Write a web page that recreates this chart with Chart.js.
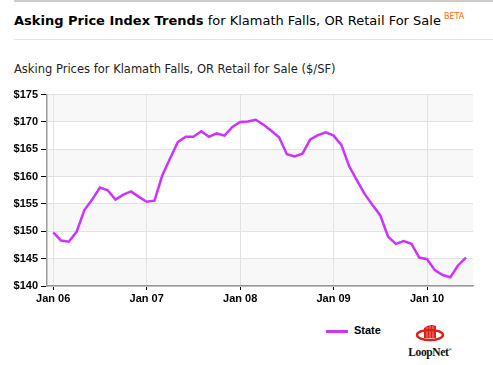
<!DOCTYPE html>
<html>
<head>
<meta charset="utf-8">
<script src="https://cdn.jsdelivr.net/npm/chart.js@4.4.1/dist/chart.umd.min.js"></script>
<style>
  body { margin: 0; background: #fff; width: 493px; height: 365px; overflow: hidden; position: relative; }
  .topline { position: absolute; left: 14px; top: 0; width: 479px; height: 2px; background: #ccc; }
  .title { position: absolute; left: 14px; top: 12px; font-family: "DejaVu Sans", Verdana, sans-serif; font-size: 13px; color: #000; white-space: nowrap; }
  .title b { font-weight: bold; }
  .title sup { color: #f60; font-size: 8px; vertical-align: 6px; margin-left: 3px; }
  .sep { position: absolute; left: 14px; top: 39px; width: 479px; height: 1px; background: #e4e4e4; }
  .subtitle { position: absolute; left: 14px; top: 62px; font-family: "DejaVu Sans", Tahoma, sans-serif; font-size: 11.5px; color: #222; white-space: nowrap; }
  #chartBox { position: absolute; left: 0; top: 85px; }
  .legend { position: absolute; left: 326px; top: 324px; font: bold 11px "Liberation Sans", Arial, sans-serif; color: #000; white-space: nowrap; }
  .legend span.swatch { display: inline-block; width: 22px; height: 3px; background: #cc33ff; vertical-align: middle; margin-right: 6px; }
  .logo { position: absolute; left: 404px; top: 322px; width: 52px; text-align: center; }
  .logo div { font: bold 11.5px "Liberation Serif", "Times New Roman", serif; color: #111; margin-top: -2px; letter-spacing: -0.4px; }
</style>
</head>
<body>
<div class="topline"></div>
<div class="title"><b>Asking Price Index Trends</b> for Klamath Falls, OR Retail For Sale<sup>BETA</sup></div>
<div class="sep"></div>
<div class="subtitle">Asking Prices for Klamath Falls, OR Retail for Sale ($/SF)</div>
<div id="chartBox"><canvas id="trendChart" width="493" height="220"></canvas></div>
<div class="legend"><span class="swatch"></span>State</div>
<div class="logo">
  <svg width="30" height="22" viewBox="0 0 30 22">
    <path d="M9 16 L9 6 Q15 1 21 4 L21 16 Z" fill="#d21"/>
    <path d="M12 16 L12 5 M15 16 L15 3.5 M18 16 L18 3.5" stroke="#f9b" stroke-width="0.8"/>
    <ellipse cx="15" cy="13" rx="13" ry="5" fill="none" stroke="#d21" stroke-width="2.4"/>
  </svg>
  <div>LoopNet<sup style="font-size:5px">®</sup></div>
</div>

<script>
// Asking price index ($/SF), monthly, Jan 06 - Jun 10
const values2006 = [149.8, 148.3, 148.1, 149.9, 153.9, 155.8, 158.0, 157.5, 155.8, 156.7, 157.3, 156.3];
const values2007 = [155.4, 155.6, 160.2, 163.3, 166.3, 167.3, 167.3, 168.3, 167.3, 167.9, 167.5, 169.1];
const values2008 = [170.0, 170.1, 170.4, 169.5, 168.4, 167.2, 164.1, 163.7, 164.2, 166.8, 167.6, 168.1];
const values2009 = [167.5, 165.8, 161.9, 159.3, 156.8, 154.8, 152.9, 149.0, 147.7, 148.2, 147.7, 145.2];
const values2010 = [144.9, 142.9, 142.0, 141.6, 143.8, 145.2];

const tickLabels = ['Jan 06', 'Jan 07', 'Jan 08', 'Jan 09', 'Jan 10'];
const tickMonths = [0, 12, 24, 36, 48];
const seriesName = 'State';

const allValues = [].concat(values2006, values2007, values2008, values2009, values2010);
const points = allValues.map((v, i) => ({ x: i, y: v }));

// alternating horizontal bands behind the grid
const bandPlugin = {
  id: 'bands',
  beforeDraw(chart) {
    const { ctx, chartArea, scales } = chart;
    const y = scales.y;
    ctx.save();
    for (let v = 140; v < 175; v += 5) {
      const idx = (v - 140) / 5;
      ctx.fillStyle = idx % 2 === 0 ? '#f8f8f8' : '#ffffff';
      const top = y.getPixelForValue(v + 5);
      const bot = y.getPixelForValue(v);
      ctx.fillRect(chartArea.left, top, chartArea.right - chartArea.left, bot - top);
    }
    ctx.restore();
  }
};

const ctx = document.getElementById('trendChart').getContext('2d');
new Chart(ctx, {
  type: 'line',
  data: {
    datasets: [{
      label: seriesName,
      data: points,
      borderColor: '#cc33ff',
      borderWidth: 2.5,
      pointRadius: 0,
      tension: 0,
      fill: false
    }]
  },
  options: {
    responsive: false,
    animation: false,
    devicePixelRatio: 1,
    layout: { padding: { top: 9, right: 20, left: 0, bottom: 0 } },
    plugins: {
      legend: { display: false },
      tooltip: { enabled: false }
    },
    scales: {
      x: {
        type: 'linear',
        min: -0.8,
        max: 53.9,
        afterBuildTicks: (scale) => { scale.ticks = tickMonths.map(v => ({ value: v })); },
        afterFit: (scale) => { scale.height = 19; },
        ticks: {
          color: '#000',
          font: { family: '"Liberation Sans", Arial, sans-serif', size: 11, weight: 'bold' },
          padding: 2,
          maxRotation: 0,
          callback: (v) => tickLabels[tickMonths.indexOf(v)]
        },
        grid: { color: '#e2e2e2', tickColor: '#000', tickLength: 4 },
        border: { color: '#999', width: 1.5 }
      },
      y: {
        min: 140,
        max: 175,
        afterFit: (scale) => { scale.width = 47; },
        ticks: {
          stepSize: 5,
          color: '#000',
          font: { family: '"Liberation Sans", Arial, sans-serif', size: 11, weight: 'bold' },
          padding: 3,
          callback: (v) => '$' + v
        },
        grid: { color: '#e2e2e2', tickColor: '#000', tickLength: 6 },
        border: { color: '#999', width: 1.5 }
      }
    }
  },
  plugins: [bandPlugin]
});
</script>
</body>
</html>
